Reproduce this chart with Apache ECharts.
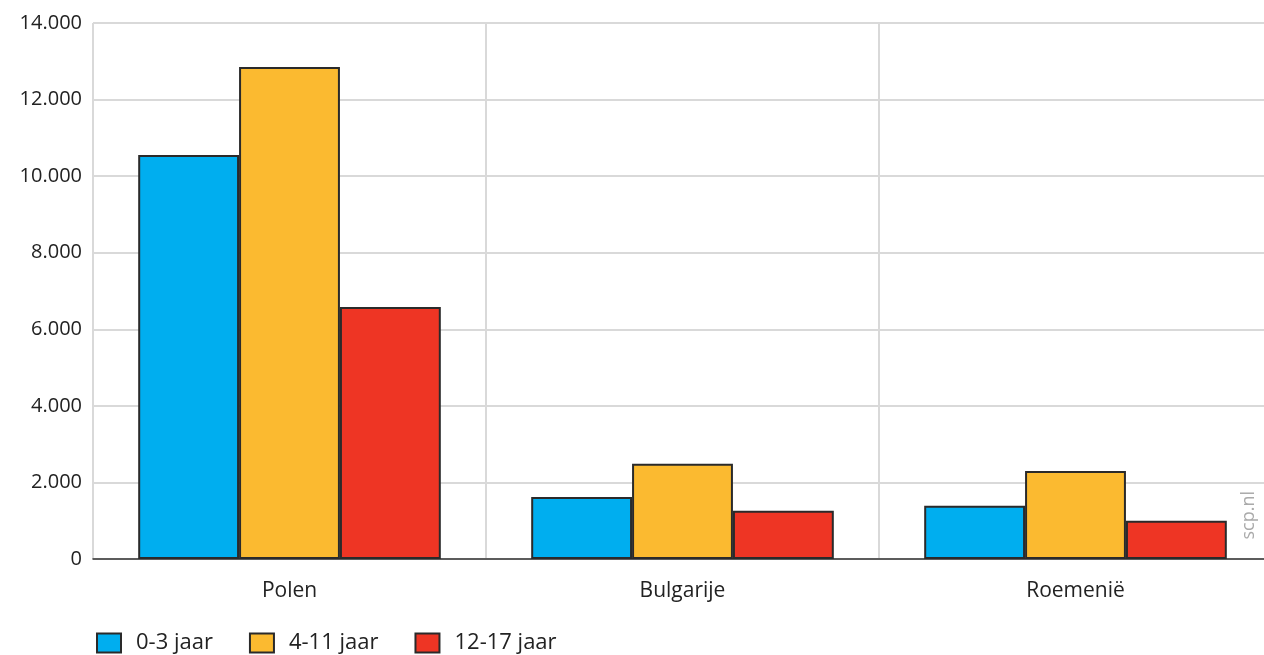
<!DOCTYPE html>
<html><head><meta charset="utf-8">
<script src="https://cdn.jsdelivr.net/npm/echarts@6/dist/echarts.min.js"></script>
<style>html,body{margin:0;padding:0;background:#fff}#c{width:1264px;height:655px}</style>
</head><body><div id="c"></div>
<script>
const categories = ['Polen', 'Bulgarije', 'Roemenië'];
const seriesNames = ['0-3 jaar', '4-11 jaar', '12-17 jaar'];
const age0to3 = [10550, 1620, 1390];
const age4to11 = [12850, 2490, 2300];
const age12to17 = [6580, 1260, 1000];
const colors = ['#00AEEF', '#FBBA30', '#EE3524'];
const values = [age0to3, age4to11, age12to17];
const FONT = 'Open Sans';
const chart = echarts.init(document.getElementById('c'));
chart.setOption({
  animation: false,
  textStyle: {fontFamily: FONT},
  grid: {left: 93, width: 1179, top: 23, bottom: 96, containLabel: false, outerBoundsMode: 'none'},
  legend: {
    left: 91, top: 627, itemWidth: 24, itemHeight: 19, itemGap: 36, icon: 'rect',
    textStyle: {fontFamily: FONT, fontSize: 22, color: '#222', padding: [0, 0, 0, 10]},
    data: seriesNames
  },
  graphic: [{
    type: 'text', left: 1240, top: 491, rotation: Math.PI / 2,
    style: {text: 'scp.nl', fill: '#aaa', font: '18px ' + FONT}
  }],
  xAxis: {
    type: 'category', data: categories,
    axisLine: {lineStyle: {color: '#333', width: 1.5}},
    axisTick: {alignWithLabel: true, length: 8, lineStyle: {color: '#333', width: 1.5}},
    axisLabel: {fontSize: 21, color: '#222', margin: 22, fontFamily: FONT},
    splitLine: {show: true, lineStyle: {color: '#d9d9d9', width: 2}}
  },
  yAxis: {
    type: 'value', min: 0, max: 14000, interval: 2000,
    axisLine: {show: false}, axisTick: {show: false},
    axisLabel: {fontSize: 20, color: '#222', margin: 11, fontFamily: FONT,
      formatter: v => v === 0 ? '0' : String(v).replace(/\B(?=(\d{3})+(?!\d))/g, '.')},
    splitLine: {lineStyle: {color: '#d9d9d9', width: 2}}
  },
  series: seriesNames.map((n, i) => ({
    name: n, type: 'bar', data: values[i],
    barGap: '0%', barCategoryGap: '23%',
    itemStyle: {color: colors[i], borderColor: '#2a2a2a', borderWidth: 2}
  }))
});
</script></body></html>
